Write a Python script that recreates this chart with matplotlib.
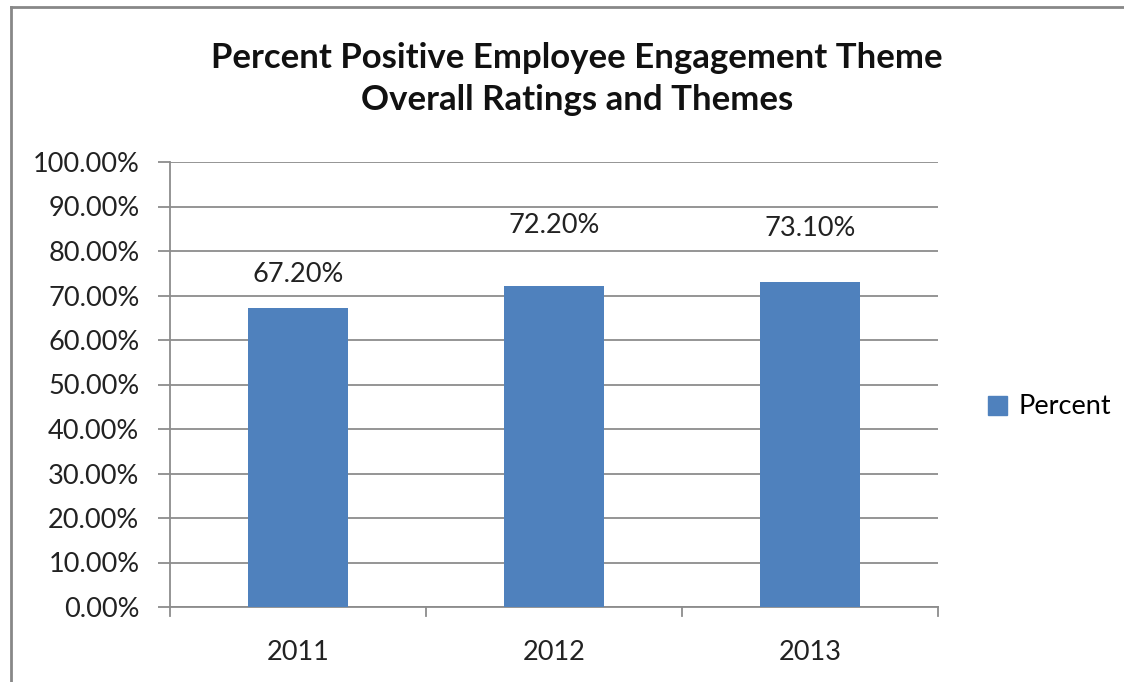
import matplotlib
matplotlib.use("Agg")
import matplotlib.pyplot as plt
from matplotlib.patches import Rectangle
from matplotlib.lines import Line2D

categories = ["2011", "2012", "2013"]
values = [67.2, 72.2, 73.1]
series_name = "Percent"
title = "Percent Positive Employee Engagement Theme\nOverall Ratings and Themes"
yticks = [0, 10, 20, 30, 40, 50, 60, 70, 80, 90, 100]

plt.rcParams['font.family'] = ['Lato', 'DejaVu Sans']
W, H = 1124, 682
fig = plt.figure(figsize=(W / 100, H / 100), dpi=100)
fig.patch.set_facecolor("white")

# plot area in pixels: left 170, right 938, top 162, bottom 607
ax = fig.add_axes([170 / W, 1 - 607 / H, (938 - 170) / W, (607 - 162) / H])
bar_color = "#4F81BD"
grid_color = "#8C8C8C"
fs = 19.5
x = list(range(len(categories)))
ax.bar(x, values, width=0.39, color=bar_color, zorder=3)
ax.set_xlim(-0.5, len(categories) - 0.5)
ax.set_ylim(0, 100)
ax.set_yticks(yticks)
ax.set_yticklabels([f"{v:.2f}%" for v in yticks], fontsize=fs, color="#222222")
ax.set_xticks(x)
ax.set_xticklabels(categories, fontsize=fs, color="#222222")
ax.tick_params(axis="x", length=0, pad=24)
ax.tick_params(axis="y", length=9, width=1.3, color=grid_color, pad=13)
ax.yaxis.grid(True, color=grid_color, linewidth=1.3, zorder=0)
for s in ["top", "right"]:
    ax.spines[s].set_visible(False)
for s in ["left", "bottom"]:
    ax.spines[s].set_color(grid_color)
    ax.spines[s].set_linewidth(1.3)
# category boundary tick marks below x axis
for b in [-0.5, 0.5, 1.5, 2.5]:
    ax.plot([b, b], [0, -2.0], color=grid_color, lw=1.3, clip_on=False, zorder=4)

# data labels (offsets in points above bar top as in the reference)
label_offsets = [24, 43, 38]
for xi, v, off in zip(x, values, label_offsets):
    ax.annotate(f"{v:.2f}%", (xi, v), xytext=(0, off), textcoords="offset points",
                ha="center", va="center", fontsize=fs, color="#222222")

fig.text(577 / W, 1 - 79 / H, title, ha="center", va="center", fontsize=25,
         fontweight="bold", color="#111111", linespacing=1.35)

# legend
handle = Rectangle((0, 0), 1, 1, color=bar_color)
fig.legend([handle], [series_name], loc="center left", bbox_to_anchor=(964 / W, 1 - 407 / H),
           frameon=False, fontsize=fs, handlelength=0.7, handleheight=0.7, handletextpad=0.4)

# outer border (top and left visible)
fig.add_artist(Line2D([11 / W, 11 / W], [0, 1 - 7 / H], color="#888888", lw=2, transform=fig.transFigure))
fig.add_artist(Line2D([11 / W, 1], [1 - 7 / H, 1 - 7 / H], color="#888888", lw=2, transform=fig.transFigure))

fig.savefig("out.png", dpi=100)
